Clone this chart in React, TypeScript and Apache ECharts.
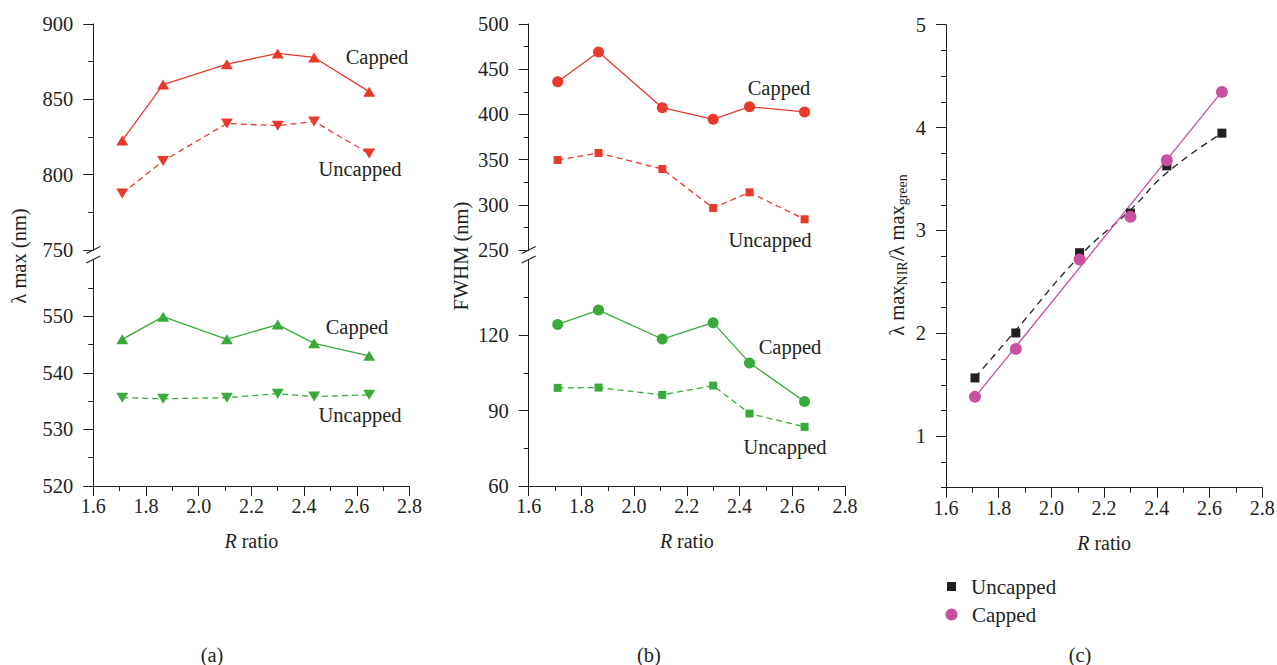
import React, { useEffect, useRef } from "react";
import * as echarts from "echarts";

// ---- data ----
const rRatio = [1.71, 1.865, 2.107, 2.3, 2.438, 2.647];

// (a) λ max (nm)
const nirCappedPeak = [822.7, 859.8, 873.3, 880.5, 877.8, 855.1];
const nirUncappedPeak = [787.5, 809.1, 834.0, 832.5, 835.3, 814.0];
const greenCappedPeak = [545.9, 549.9, 545.9, 548.5, 545.2, 543.0];
const greenUncappedPeak = [535.6, 535.4, 535.6, 536.3, 535.8, 536.1];

// (b) FWHM (nm)
const nirCappedFwhm = [436.2, 469.0, 407.4, 394.6, 408.5, 402.7];
const nirUncappedFwhm = [349.6, 357.3, 339.6, 296.5, 313.8, 284.0];
const greenCappedFwhm = [124.2, 129.9, 118.4, 124.9, 108.9, 93.6];
const greenUncappedFwhm = [99.0, 99.1, 96.2, 99.9, 88.8, 83.5];

// (c) λ max NIR / λ max green
const ratioUncapped = [1.567, 2.004, 2.784, 3.169, 3.628, 3.946];
const ratioCapped = [1.383, 1.849, 2.718, 3.133, 3.683, 4.347];
const fitUncapped = [1.57, 2.03, 2.75, 3.2, 3.56, 3.946];
const fitCappedX = [1.71, 2.647];
const fitCappedY = [1.38, 4.35];

// tick values
const aBottomTicks = [520, 530, 540, 550];
const bBottomTicks = [60, 90, 120];
const cMajorTicks = [1, 2, 3, 4, 5];

const FONT = "Liberation Serif, DejaVu Serif, serif";
const INK = "#231f20";
const RED = "#e8392b";
const GREEN = "#3aaa3a";
const PINK = "#c94f9f";

// layout
const A_LEFT = 93.3;
const B_LEFT = 528.7;
const C_LEFT = 946;
const PW = 316.2;
const TOP_T = 24;
const TOP_H = 226;
const BOT_T = 259.5;
const BOT_H = 226.5;

const pairs = (xs: number[], ys: number[]) => xs.map((x, i) => [x, ys[i]]);

function xBottom(gridIndex: number) {
  return {
    type: "value",
    gridIndex,
    min: 1.6,
    max: 2.8,
    interval: 0.2,
    axisLine: { show: true, onZero: false, lineStyle: { color: INK, width: 1 } },
    axisTick: { show: true, length: 10, lineStyle: { color: INK } },
    minorTick: { show: true, splitNumber: 2, length: 5, lineStyle: { color: INK } },
    splitLine: { show: false },
    minorSplitLine: { show: false },
    axisLabel: {
      fontFamily: FONT,
      fontSize: 20,
      color: INK,
      margin: 10,
      formatter: (v: number) => v.toFixed(1),
    },
    name: "{i|R} ratio",
    nameLocation: "middle",
    nameGap: 45,
    nameTextStyle: {
      fontFamily: FONT,
      fontSize: 20,
      color: INK,
      rich: { i: { fontFamily: FONT, fontSize: 20, color: INK, fontStyle: "italic" } },
    },
  };
}

function xHidden(gridIndex: number) {
  return { type: "value", gridIndex, min: 1.6, max: 2.8, show: false };
}

function yAxis(gridIndex: number, min: number, max: number, interval: number, custom?: number[]) {
  const ax: any = {
    type: "value",
    gridIndex,
    min,
    max,
    interval,
    axisLine: { show: true, onZero: false, lineStyle: { color: INK, width: 1 } },
    axisTick: { show: true, length: 10, lineStyle: { color: INK } },
    minorTick: { show: true, splitNumber: 2, length: 5, lineStyle: { color: INK } },
    splitLine: { show: false },
    minorSplitLine: { show: false },
    axisLabel: { fontFamily: FONT, fontSize: 20.5, color: INK, margin: 20 },
  };
  if (custom) {
    ax.axisTick.customValues = custom;
    ax.axisLabel.customValues = custom;
  }
  return ax;
}

function lineSeries(
  name: string,
  xi: number,
  yi: number,
  ys: number[],
  color: string,
  symbol: string,
  size: any,
  dashed: boolean,
  rotate = 0
) {
  return {
    type: "line",
    name,
    xAxisIndex: xi,
    yAxisIndex: yi,
    data: pairs(rRatio, ys),
    symbol,
    symbolSize: size,
    symbolRotate: rotate,
    showSymbol: true,
    lineStyle: { color, width: 1.3, type: dashed ? [6, 4] : "solid" },
    itemStyle: { color },
    z: 3,
  };
}

function breakMarks(x: number) {
  const ys = [TOP_T + TOP_H, BOT_T];
  return ys.map((y) => ({
    type: "line",
    shape: { x1: x - 7, y1: y + 3.5, x2: x + 7, y2: y - 3.5 },
    style: { stroke: INK, lineWidth: 1.2 },
  }));
}

function annot(text: string, x: number, y: number) {
  return {
    type: "text",
    x,
    y,
    style: {
      text,
      fill: INK,
      fontFamily: FONT,
      fontSize: 20.5,
      align: "center",
      verticalAlign: "middle",
    },
  };
}

function vName(text: string, x: number, y: number) {
  return {
    type: "text",
    x,
    y,
    rotation: Math.PI / 2,
    style: { text, fill: INK, fontFamily: FONT, fontSize: 20.5, align: "center", verticalAlign: "middle" },
  };
}

export default function App() {
  const ref = useRef<HTMLDivElement>(null);

  useEffect(() => {
    if (!ref.current) return;
    const chart = echarts.init(ref.current, null, { renderer: "svg" });

    const grid = [
      { left: A_LEFT, top: TOP_T, width: PW, height: TOP_H },
      { left: A_LEFT, top: BOT_T, width: PW, height: BOT_H },
      { left: B_LEFT, top: TOP_T, width: PW, height: TOP_H },
      { left: B_LEFT, top: BOT_T, width: PW, height: BOT_H },
      { left: C_LEFT, top: 24.7, width: PW, height: 463 },
    ].map((g) => ({ ...g, containLabel: false, outerBoundsMode: "none", show: false }));

    const yC = yAxis(4, 0.5, 5, 0.25);
    yC.axisLabel = { show: false };
    yC.minorTick = { show: false };
    yC.axisTick = { show: true, length: 5, lineStyle: { color: INK } };
    const yCMajor: any = {
      type: "value",
      gridIndex: 4,
      min: 0.5,
      max: 5,
      interval: 0.25,
      position: "left",
      axisLine: { show: false },
      axisTick: { show: true, length: 10, customValues: cMajorTicks, lineStyle: { color: INK } },
      axisLabel: {
        fontFamily: FONT,
        fontSize: 20.5,
        color: INK,
        margin: 20,
        customValues: cMajorTicks,
        formatter: (v: number) => (Number.isInteger(v) ? String(v) : ""),
      },
      splitLine: { show: false },
    };

    const option: any = {
      animation: false,
      backgroundColor: "#ffffff",
      grid,
      xAxis: [xHidden(0), xBottom(1), xHidden(2), xBottom(3), xBottom(4)],
      yAxis: [
        yAxis(0, 750, 900, 50),
        yAxis(1, 520, 560, 10, aBottomTicks),
        yAxis(2, 250, 500, 50),
        yAxis(3, 60, 150, 30, bBottomTicks),
        yC,
        yCMajor,
      ],
      legend: [
        {
          data: [{ name: "Uncapped", icon: "rect" }],
          left: 947,
          top: 576,
          padding: 0,
          itemWidth: 9,
          itemHeight: 9,
          selectedMode: false,
          textStyle: { fontFamily: FONT, fontSize: 21, color: INK, padding: [0, 0, 0, 10] },
        },
        {
          data: [{ name: "Capped", icon: "circle" }],
          left: 945.5,
          top: 604,
          padding: 0,
          itemWidth: 12,
          itemHeight: 12,
          selectedMode: false,
          textStyle: { fontFamily: FONT, fontSize: 21, color: INK, padding: [0, 0, 0, 9.5] },
        },
      ],
      series: [
        lineSeries("NIR capped λmax", 0, 0, nirCappedPeak, RED, "triangle", [12, 10], false),
        lineSeries("NIR uncapped λmax", 0, 0, nirUncappedPeak, RED, "triangle", [12, 10], true, 180),
        lineSeries("Green capped λmax", 1, 1, greenCappedPeak, GREEN, "triangle", [12, 10], false),
        lineSeries("Green uncapped λmax", 1, 1, greenUncappedPeak, GREEN, "triangle", [12, 10], true, 180),
        lineSeries("NIR capped FWHM", 2, 2, nirCappedFwhm, RED, "circle", 11, false),
        lineSeries("NIR uncapped FWHM", 2, 2, nirUncappedFwhm, RED, "rect", 8, true),
        lineSeries("Green capped FWHM", 3, 3, greenCappedFwhm, GREEN, "circle", 11, false),
        lineSeries("Green uncapped FWHM", 3, 3, greenUncappedFwhm, GREEN, "rect", 8, true),
        {
          type: "line",
          name: "Uncapped fit",
          xAxisIndex: 4,
          yAxisIndex: 4,
          data: pairs(rRatio, fitUncapped),
          smooth: true,
          symbol: "none",
          lineStyle: { color: INK, width: 1.3, type: [7, 5] },
          z: 2,
        },
        {
          type: "line",
          name: "Capped fit",
          xAxisIndex: 4,
          yAxisIndex: 4,
          data: pairs(fitCappedX, fitCappedY),
          symbol: "none",
          lineStyle: { color: PINK, width: 1.3 },
          z: 2,
        },
        {
          type: "scatter",
          name: "Uncapped",
          xAxisIndex: 4,
          yAxisIndex: 4,
          data: pairs(rRatio, ratioUncapped),
          symbol: "rect",
          symbolSize: 9,
          itemStyle: { color: INK, opacity: 1 },
          z: 3,
        },
        {
          type: "scatter",
          name: "Capped",
          xAxisIndex: 4,
          yAxisIndex: 4,
          data: pairs(rRatio, ratioCapped),
          symbol: "circle",
          symbolSize: 12,
          itemStyle: { color: PINK, opacity: 1 },
          z: 4,
        },
      ],
      graphic: [
        ...breakMarks(A_LEFT),
        ...breakMarks(B_LEFT),
        annot("Capped", 377, 57),
        annot("Uncapped", 360, 169),
        annot("Capped", 357, 327),
        annot("Uncapped", 360, 415),
        annot("Capped", 779, 88),
        annot("Uncapped", 770, 240),
        annot("Capped", 790, 347),
        annot("Uncapped", 785, 447),
        vName("λ max (nm)", 19, 256),
        vName("FWHM (nm)", 461, 256),
        {
          type: "text",
          x: 897,
          y: 255,
          rotation: Math.PI / 2,
          style: {
            text: "λ max{sub|NIR}/λ max{sub|green}",
            fill: INK,
            fontFamily: FONT,
            fontSize: 20.5,
            lineHeight: 24,
            align: "center",
            verticalAlign: "middle",
            rich: {
              sub: { fontFamily: FONT, fontSize: 14, fill: INK, lineHeight: 8, verticalAlign: "bottom" },
            },
          },
        },
        annot("(a)", 212, 655),
        annot("(b)", 649, 655),
        annot("(c)", 1080, 655),
      ],
    };

    chart.setOption(option);
    return () => chart.dispose();
  }, []);

  return (
    <div
      ref={ref}
      style={{ position: "absolute", left: 0, top: 0, width: 1277, height: 665, background: "#fff" }}
    />
  );
}
